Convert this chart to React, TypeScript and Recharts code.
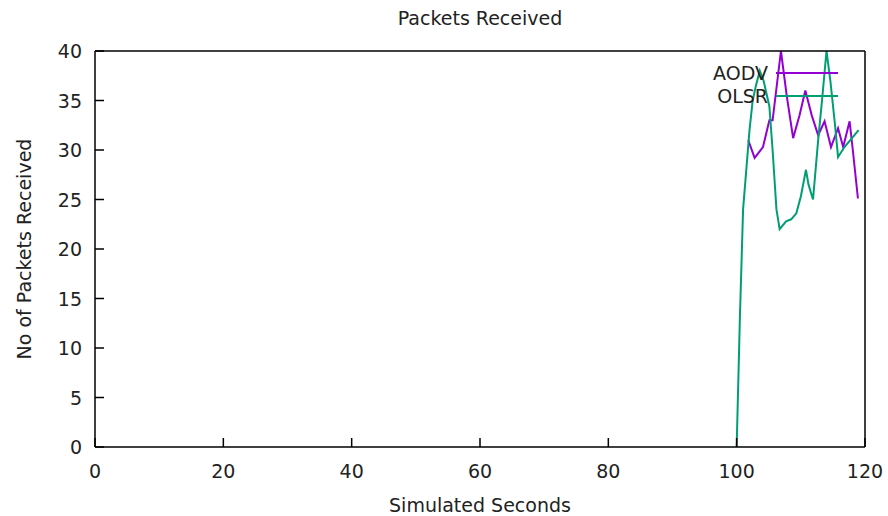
import { LineChart, Line, XAxis, YAxis, Legend, Label } from "recharts";

const aodvSeconds = [101.8, 102.8, 104.1, 105.1, 105.6, 106.9, 107.8, 108.8, 109.8, 110.7, 111.7, 112.7, 113.7, 114.7, 115.8, 116.6, 117.6, 118.1, 118.9];
const aodvPackets = [31, 29.2, 30.3, 33, 33, 40, 35.5, 31.2, 33.5, 36, 33.5, 31.5, 32.9, 30.3, 32.2, 30.3, 32.9, 30, 25.1];

const olsrSeconds = [100, 100.5, 101, 101.5, 102, 102.5, 103, 103.6, 104.2, 105.1, 105.6, 106.2, 106.7, 107.7, 108.5, 109.3, 110, 110.8, 111.2, 111.9, 112.7, 113.3, 114, 114.6, 115.3, 115.8, 116.8, 118.1, 119];
const olsrPackets = [0, 13, 24, 28, 32, 35, 36.5, 38, 37, 34.4, 30, 24, 22, 22.8, 23, 23.6, 25.3, 28, 26.5, 25, 31, 35, 40, 37, 32.7, 29.3, 30.3, 31.3, 32];

const xTicks = [0, 20, 40, 60, 80, 100, 120];
const yTicks = [0, 5, 10, 15, 20, 25, 30, 35, 40];

const aodvData = aodvSeconds.map((x, i) => ({ x, y: aodvPackets[i] }));
const olsrData = olsrSeconds.map((x, i) => ({ x, y: olsrPackets[i] }));

const FONT = "'DejaVu Sans', sans-serif";
const TEXT = "#222";
const SIZE = 19;
const TICK_LEN = 9;

const BottomTick = (props: any) => {
  const { x, y, payload } = props;
  return (
    <g>
      <line x1={x} x2={x} y1={y} y2={y - TICK_LEN} stroke="#000" strokeWidth={1.5} />
      <text x={x} y={y + 24} textAnchor="middle" dominantBaseline="central" fontFamily={FONT} fontSize={SIZE} fill={TEXT}>
        {payload.value}
      </text>
    </g>
  );
};

const TopTick = (props: any) => {
  const { x, y } = props;
  return <line x1={x} x2={x} y1={y} y2={y + TICK_LEN} stroke="#000" strokeWidth={1.5} />;
};

const LeftTick = (props: any) => {
  const { x, y, payload } = props;
  return (
    <g>
      <line x1={x} x2={x + TICK_LEN} y1={y} y2={y} stroke="#000" strokeWidth={1.5} />
      <text x={x - 13} y={y} textAnchor="end" dominantBaseline="central" fontFamily={FONT} fontSize={SIZE} fill={TEXT}>
        {payload.value}
      </text>
    </g>
  );
};

const RightTick = (props: any) => {
  const { x, y } = props;
  return <line x1={x} x2={x - TICK_LEN} y1={y} y2={y} stroke="#000" strokeWidth={1.5} />;
};

const renderLegend = (props: any) => {
  const items = props.payload || [];
  return (
    <div style={{ position: "relative", width: 0, height: 0 }}>
      {items.map((p: any, i: number) => (
        <div
          key={p.value}
          style={{
            position: "absolute",
            left: 0,
            top: 62 + i * 23,
            width: 838,
            height: 22,
            display: "flex",
            alignItems: "center",
            justifyContent: "flex-end",
          }}
        >
          <span style={{ fontFamily: FONT, fontSize: SIZE, color: TEXT, marginRight: 8 }}>{p.value}</span>
          <span style={{ display: "inline-block", width: 62, height: 2, background: p.color }} />
        </div>
      ))}
    </div>
  );
};

export default function App() {
  return (
    <div style={{ position: "absolute", left: 0, top: 0, width: 888, height: 516, background: "#fff" }}>
      <LineChart width={888} height={516} margin={{ top: 50, right: 22, bottom: 39, left: 0 }}>
        <XAxis
          dataKey="x"
          type="number"
          domain={[0, 120]}
          ticks={xTicks}
          height={30}
          tickSize={0}
          tickMargin={0}
          tick={<BottomTick />}
          axisLine={{ stroke: "#000", strokeWidth: 1.5 }}
          allowDataOverflow
        >
          <Label
            content={({ viewBox }: any) => (
              <text x={viewBox.x + viewBox.width / 2} y={viewBox.y + 58} textAnchor="middle" dominantBaseline="central" fontFamily={FONT} fontSize={SIZE} fill={TEXT}>
                Simulated Seconds
              </text>
            )}
          />
        </XAxis>
        <XAxis
          xAxisId="top"
          orientation="top"
          type="number"
          domain={[0, 120]}
          ticks={xTicks}
          height={1}
          tickSize={0}
          tickMargin={0}
          tick={<TopTick />}
          axisLine={{ stroke: "#000", strokeWidth: 1.5 }}
        >
          <Label
            content={({ viewBox }: any) => (
              <text x={viewBox.x + viewBox.width / 2} y={viewBox.y - 32} textAnchor="middle" dominantBaseline="central" fontFamily={FONT} fontSize={SIZE} fill={TEXT}>
                Packets Received
              </text>
            )}
          />
        </XAxis>
        <YAxis
          type="number"
          domain={[0, 40]}
          ticks={yTicks}
          width={95}
          tickSize={0}
          tickMargin={0}
          tick={<LeftTick />}
          axisLine={{ stroke: "#000", strokeWidth: 1.5 }}
        >
          <Label
            content={({ viewBox }: any) => {
              const cx = viewBox.x + 24;
              const cy = viewBox.y + viewBox.height / 2;
              return (
                <text x={cx} y={cy} transform={`rotate(-90 ${cx} ${cy})`} textAnchor="middle" dominantBaseline="central" fontFamily={FONT} fontSize={SIZE} fill={TEXT}>
                  No of Packets Received
                </text>
              );
            }}
          />
        </YAxis>
        <YAxis
          yAxisId="right"
          orientation="right"
          type="number"
          domain={[0, 40]}
          ticks={yTicks}
          width={1}
          tickSize={0}
          tickMargin={0}
          tick={<RightTick />}
          axisLine={{ stroke: "#000", strokeWidth: 1.5 }}
        />
        <Legend content={renderLegend} wrapperStyle={{ top: 0, left: 0, width: 0, height: 0 }} />
        <Line data={aodvData} dataKey="y" name="AODV" type="linear" stroke="#9400D3" strokeWidth={2} dot={false} isAnimationActive={false} />
        <Line data={olsrData} dataKey="y" name="OLSR" type="linear" stroke="#009E73" strokeWidth={2} dot={false} isAnimationActive={false} />
      </LineChart>
    </div>
  );
}
